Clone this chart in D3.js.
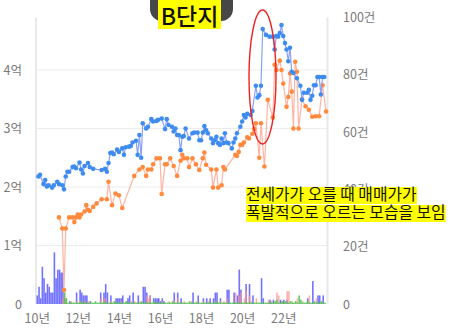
<!DOCTYPE html>
<html><head><meta charset="utf-8">
<script src="https://cdn.jsdelivr.net/npm/d3@7"></script>
<style>body{margin:0;background:#fff}svg{display:block}</style>
</head><body>
<svg id="c" width="467" height="336"></svg>
<script>
// ---- DATA ----
const titleText = "B단지";
const noteLines = ["전세가가 오를 때 매매가가", "폭발적으로 오르는 모습을 보임"];
const leftTicks = [0, 1, 2, 3, 4];           // 억
const rightTicks = [0, 20, 40, 60, 80, 100]; // 건
const xTickYears = [2010, 2012, 2014, 2016, 2018, 2020, 2022];

// 매매가 (억)
const saleMonths = ["2010-02","2010-03","2010-05","2010-06","2010-07","2010-08","2010-10","2010-11","2011-01","2011-02","2011-04","2011-05","2011-06","2011-07","2011-08","2011-10","2011-11","2011-12","2012-02","2012-03","2012-04","2012-05","2012-07","2012-08","2012-10","2013-03","2013-05","2013-06","2013-07","2013-08","2013-09","2013-10","2013-12","2014-01","2014-03","2014-04","2014-05","2014-07","2014-08","2014-09","2014-11","2014-12","2015-01","2015-02","2015-03","2015-05","2015-06","2015-08","2015-09","2015-11","2015-12","2016-02","2016-04","2016-05","2016-06","2016-08","2016-09","2016-10","2016-11","2016-12","2017-01","2017-02","2017-03","2017-04","2017-06","2017-08","2017-09","2017-11","2017-12","2018-01","2018-02","2018-03","2018-04","2018-05","2018-07","2018-08","2018-09","2018-10","2018-11","2018-12","2019-01","2019-02","2019-03","2019-04","2019-05","2019-07","2019-08","2019-09","2019-10","2019-12","2020-01","2020-02","2020-03","2020-04","2020-06","2020-07","2020-09","2020-10","2020-11","2020-12","2021-01","2021-03","2021-05","2021-07","2021-08","2021-09","2021-10","2021-11","2021-12","2022-01","2022-02","2022-03","2022-04","2022-05","2022-06","2022-07","2022-09","2022-11","2022-12","2023-01","2023-03","2023-04","2023-05","2023-06","2023-07","2023-08","2023-09","2023-10","2023-11","2023-12","2024-01"];
const saleValues = [2.18,2.21,2.05,2.12,2.01,2.03,1.99,2.03,2.09,2.05,2.03,1.96,2.18,2.26,2.26,2.34,2.35,2.32,2.42,2.30,2.23,2.36,2.41,2.34,2.31,2.29,2.31,2.26,2.41,2.58,2.59,2.56,2.64,2.60,2.66,2.55,2.68,2.69,2.70,2.76,2.79,2.55,2.89,2.50,3.09,3.00,3.03,3.16,3.12,3.13,3.15,3.17,2.99,3.16,3.06,3.03,2.95,3.00,2.89,2.89,2.63,2.86,2.87,3.00,2.83,2.92,2.93,2.93,2.80,2.80,2.93,3.04,2.97,2.92,2.83,2.75,2.80,2.86,2.75,2.72,2.83,2.75,2.92,2.76,2.75,2.66,2.76,2.83,2.92,3.03,3.12,3.23,3.19,3.25,3.23,3.30,3.73,3.53,3.57,3.73,4.70,4.60,4.57,4.57,4.35,4.58,4.57,4.63,4.77,4.58,4.46,4.35,4.15,4.38,3.97,3.95,3.86,3.73,3.49,3.61,3.61,3.66,3.49,3.56,3.74,3.74,3.88,3.88,3.58,3.88,3.88];

// 전세가 (억)
const rentMonths = ["2011-02","2011-04","2011-05","2011-06","2011-08","2011-10","2011-11","2011-12","2012-01","2012-02","2012-03","2012-05","2012-06","2012-07","2012-08","2012-10","2012-12","2013-03","2013-06","2013-07","2013-09","2013-11","2014-01","2014-03","2014-10","2015-01","2015-03","2015-05","2015-06","2015-08","2015-09","2015-11","2016-01","2016-02","2016-04","2016-05","2016-07","2016-09","2016-11","2017-01","2017-02","2017-03","2017-05","2017-06","2017-08","2017-10","2017-12","2018-02","2018-03","2018-04","2018-07","2018-08","2018-10","2018-11","2019-01","2019-02","2019-03","2019-09","2019-10","2019-11","2019-12","2020-01","2020-02","2020-04","2020-05","2020-07","2020-08","2020-09","2020-11","2020-12","2021-02","2021-04","2021-07","2021-08","2021-09","2021-11","2021-12","2022-01","2022-03","2022-04","2022-05","2022-06","2022-07","2022-08","2022-09","2022-10","2022-12","2023-02","2023-04","2023-06","2023-08","2023-10","2023-12","2024-02"];
const rentValues = [1.48,1.29,0.24,1.29,1.48,1.48,1.40,1.48,1.53,1.48,1.53,1.58,1.69,1.61,1.59,1.66,1.72,1.79,1.79,2.09,1.69,1.89,1.86,1.64,2.19,2.30,2.34,2.19,2.30,2.30,2.39,2.49,2.49,1.88,2.39,2.39,2.49,2.36,2.19,2.45,2.55,2.49,2.49,2.34,2.49,2.39,2.29,2.49,2.59,2.38,2.30,1.99,2.30,1.99,2.03,2.34,2.30,2.55,2.53,2.60,2.72,2.72,2.76,2.85,2.83,2.91,2.99,3.09,2.50,3.09,2.35,3.49,3.19,4.09,4.00,4.16,4.00,3.77,3.37,3.54,3.94,3.63,3.00,4.14,3.97,3.00,3.50,3.38,3.32,3.20,3.21,3.21,3.74,3.29];

// 월별 거래량 (건), 2010-01 부터
const countStart = "2010-01";
const saleCounts = [
 3,6,2,13,9,4,7,6,4,4,18,9,
 12,12,11,11,2,0,0,1,0,0,0,4,
 0,5,4,3,3,3,0,1,0,0,0,0,
 0,4,0,4,7,4,0,3,0,0,2,2,
 2,2,3,0,0,2,3,0,4,0,0,3,
 0,0,6,6,4,0,3,0,2,2,2,2,
 1,2,1,0,0,0,0,0,4,0,4,0,
 2,0,0,0,0,0,0,4,0,0,3,0,
 0,2,0,2,0,2,0,2,4,4,0,2,
 0,0,0,5,5,0,0,4,0,3,12,5,
 0,0,7,0,7,0,3,0,0,0,0,9,
 2,0,0,0,1.5,0,1.5,0,0,0,1.5,0,
 1.5,0,1.5,0,0,0,0,0,0,0,0,0,
 0,0,2,0,0,8,0,0,3,3,0,3,
 0,0];
const rentCounts = [
 0,0,0,0,0,0,0,0,0,0,0,0,
 0,0,0,2,4,2,0,0,1,0,0,1,
 0,1,0,0,1,0,1,0,0,0,0,0,
 0,2,0,2,2,0,0,1,0,1,0,0,
 0,1,0,0,1,0,0,1,0,1,0,0,
 1,0,0,0,3,2,3,0,1,0,0,0,
 0,1,0,0,0,1,0,0,1,0,2,0,
 0,0,1,0,0,0,1,0,0,1,0,0,
 0,1,0,0,1,0,0,0,1,0,0,1,
 0,1,0,2,0,0,0,0,4,0,3,4,
 0,2,4.5,0,3,1,0,0,2,0,0,0,
 0,0,0,1.5,0,1,0,0,4,3,0,1,
 0,0,4.5,4.5,0,1,0,0,2,0,0,1,
 0,0,0,3,0,0,0,2,0,0,1,0,
 0,0];
const monthlyCounts = [
 0,0,0,0,0,0,0,0,0,0,0,0,
 0,0,0,0,4,2,0.5,0.5,0.5,0.5,0.5,0.5,
 0.5,0.5,1,0.5,0.5,0.5,0.5,0.5,0.5,0.5,1,0.5,
 0.5,0.5,0.5,1,0.5,0.5,0.5,0.5,0.5,1,0.5,0.5,
 0.5,0.5,0.5,0.5,1,0.5,0.5,0.5,0.5,0.5,0.5,0.5,
 0.5,1,0.5,0.5,0.5,0.5,0.5,0.5,1,0.5,0.5,0.5,
 0.5,0.5,0.5,0.5,0.5,0.5,0.5,1,0.5,0.5,0.5,0.5,
 0.5,0.5,0.5,0.5,0.5,1,0.5,0.5,0.5,0.5,0.5,0.5,
 0.5,0.5,0.5,0.5,0.5,0.5,0.5,0.5,0.5,1,0.5,0.5,
 0.5,0.5,0.5,0.5,0.5,0.5,0.5,0.5,0.5,0.5,0.5,0.5,
 0.5,0.5,0.5,0.5,0.5,0.5,0.5,0.5,0.5,0.5,0.5,0.5,
 0.5,0.5,0.5,0.5,0.5,0.5,0.5,1,1.5,0.5,0.5,1,
 0.5,1,0.5,0.5,1,0.5,0.5,1,0.5,3,1.5,0.5,
 0.5,0.5,1,0.5,0.5,0.5,1,0.5,0.5,0.5,1,0.5,
 0.5,0];

// ---- CHART ----
const parse = d3.timeParse("%Y-%m");
const svg = d3.select("#c");
const FONT = "'Noto Sans CJK KR','Noto Sans',sans-serif";

const x = d3.scaleTime().domain([new Date(2010,0,1), new Date(2024,1,18)]).range([36.7, 327]);
const yL = d3.scaleLinear().domain([0, 4.9]).range([304, 17.35]);
const yR = d3.scaleLinear().domain([0, 100]).range([304, 17.5]);

// gridlines
svg.append("g").selectAll("line").data(leftTicks.filter(d=>d>0)).join("line")
  .attr("x1", 36).attr("x2", 327).attr("y1", d=>yL(d)).attr("y2", d=>yL(d))
  .attr("stroke", "#ececec").attr("stroke-width", 1);

// axis vertical lines
[36, 327.5].forEach(px => svg.append("line").attr("x1", px).attr("x2", px)
  .attr("y1", yR(100)).attr("y2", 304).attr("stroke", "#e8e8e8").attr("stroke-width", 2));

// left axis labels
const gL = svg.append("g").attr("transform", "translate(22,0)")
  .call(d3.axisLeft(yL).tickValues(leftTicks).tickSize(0).tickPadding(0)
    .tickFormat(d => d === 0 ? "0" : d + "억"));
gL.select(".domain").remove();
gL.selectAll("text").attr("fill", "#7a7a7a").style("font-family", FONT).style("font-size", "12.5px");

// right axis labels
const gR = svg.append("g").attr("transform", "translate(343,0)")
  .call(d3.axisRight(yR).tickValues(rightTicks).tickSize(0).tickPadding(0)
    .tickFormat(d => d === 0 ? "0" : d + "건"));
gR.select(".domain").remove();
gR.selectAll("text").attr("fill", "#7a7a7a").style("font-family", FONT).style("font-size", "12.5px");

// x axis labels
const gX = svg.append("g").attr("transform", "translate(0,314)")
  .call(d3.axisBottom(x).tickValues(xTickYears.map(yy => new Date(yy,0,1))).tickSize(0).tickPadding(0)
    .tickFormat(d => d3.timeFormat("%y")(d) + "년"));
gX.select(".domain").remove();
gX.selectAll("text").attr("fill", "#7a7a7a").style("font-family", FONT).style("font-size", "12.5px");

// bars
const start = parse(countStart);
function barSeries(arr, color, op) {
  svg.append("g").selectAll("rect").data(arr.map((v,i)=>({d:d3.timeMonth.offset(start,i), v})).filter(o=>o.v>0))
    .join("rect")
    .attr("x", o => x(o.d) - 0.2).attr("width", 1.6)
    .attr("y", o => yR(o.v)).attr("height", o => 304 - yR(o.v))
    .attr("fill", color).attr("fill-opacity", op);
}
barSeries(saleCounts, "#5b5bff", 0.85);
barSeries(rentCounts, "#ff8f8f", 0.7);
barSeries(monthlyCounts, "#55c455", 0.9);

// lines
function lineSeries(months, values, lineColor, dotColor) {
  const data = months.map((m,i)=>({d:parse(m), v:values[i]}));
  svg.append("path").datum(data)
    .attr("d", d3.line().x(o=>x(o.d)).y(o=>yL(o.v)))
    .attr("fill", "none").attr("stroke", lineColor).attr("stroke-width", 1.2);
  svg.append("g").selectAll("circle").data(data).join("circle")
    .attr("cx", o=>x(o.d)).attr("cy", o=>yL(o.v)).attr("r", 2.3).attr("fill", dotColor);
}
lineSeries(rentMonths, rentValues, "#ffb3a3", "#ff8a3d");
lineSeries(saleMonths, saleValues, "#8aa2f5", "#3f8cf0");

// red ellipse
svg.append("ellipse").attr("cx", 262.5).attr("cy", 77).attr("rx", 13.5).attr("ry", 67)
  .attr("fill", "none").attr("stroke", "#f02020").attr("stroke-width", 1.4);

// title
svg.append("rect").attr("x", 150).attr("y", -12).attr("width", 83).attr("height", 33).attr("rx", 12).attr("fill", "#474747");
svg.append("rect").attr("x", 158).attr("y", 0).attr("width", 63).attr("height", 29).attr("fill", "#ffff00");
svg.append("text").attr("x", 189.5).attr("y", 25).attr("text-anchor", "middle")
  .style("font-family", FONT).style("font-size", "23px").style("font-weight", "500").attr("fill", "#111").text(titleText);

// annotation
const noteG = svg.append("g");
noteLines.forEach((t, i) => {
  const tx = noteG.append("text").attr("x", 246).attr("y", 200 + i*18)
    .style("font-family", FONT).style("font-size", "15.8px").attr("fill", "#111").text(t);
  const bb = tx.node().getBBox();
  noteG.insert("rect", "text").attr("x", bb.x).attr("y", 187 + i*18).attr("width", bb.width).attr("height", 17).attr("fill", "#ffff00");
});
</script>
</body></html>
